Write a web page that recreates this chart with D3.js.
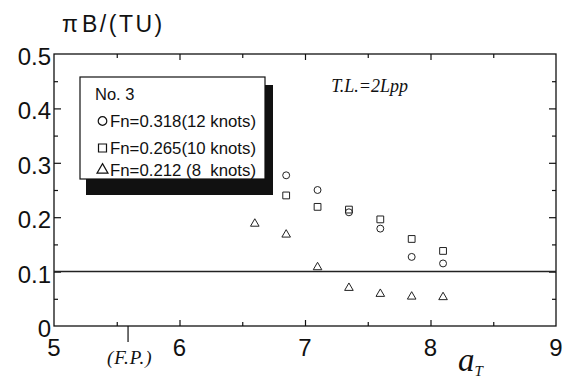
<!DOCTYPE html>
<html>
<head>
<meta charset="utf-8">
<script src="https://cdn.jsdelivr.net/npm/d3@7"></script>
<style>
  body { margin: 0; background: #fff; }
  svg { display: block; }
  text { font-family: "Liberation Sans", Arial, sans-serif; fill: #111; }
  .serif { font-family: "Liberation Serif", "Times New Roman", serif; font-style: italic; }
</style>
</head>
<body>
<svg id="chart"></svg>
<script>
// values
const xMajor = [5, 6, 7, 8, 9];
const xMinor = [5.5, 6.5, 7.5, 8.5];
const yMajor = [0, 0.1, 0.2, 0.3, 0.4, 0.5];
const yMinor = [0.05, 0.15, 0.25, 0.35, 0.45];

const circleX = [6.85, 7.1, 7.35, 7.6, 7.85, 8.1];
const circleY = [0.277, 0.250, 0.209, 0.179, 0.127, 0.115];   // Fn=0.318
const squareX = [6.85, 7.1, 7.35, 7.6, 7.85, 8.1];
const squareY = [0.240, 0.219, 0.214, 0.196, 0.160, 0.138];   // Fn=0.265
const triX = [6.6, 6.85, 7.1, 7.35, 7.6, 7.85, 8.1];
const triY = [0.188, 0.168, 0.108, 0.070, 0.059, 0.054, 0.053]; // Fn=0.212

const legendLabels = ["Fn=0.318(12 knots)", "Fn=0.265(10 knots)", "Fn=0.212 (8  knots)"];
const refLine = 0.1;
const fpMark = 5.59;

const width = 569, height = 378;
const plotL = 54, plotR = 556, plotT = 54, plotB = 326;

const svg = d3.select("#chart")
    .attr("width", width)
    .attr("height", height);

const x = d3.scaleLinear().domain([5, 9]).range([plotL, plotR]);
const y = d3.scaleLinear().domain([0, 0.5]).range([plotB, plotT]);

// frame
svg.append("rect")
    .attr("x", plotL)
    .attr("y", plotT)
    .attr("width", plotR - plotL)
    .attr("height", plotB - plotT)
    .attr("fill", "none")
    .attr("stroke", "#111")
    .attr("stroke-width", 1.3);

function tickAxis(axis, vals, size, transform) {
    svg.append("g")
        .attr("transform", transform)
        .call(axis.tickValues(vals).tickSize(size).tickFormat(""))
        .call(g => g.select(".domain").remove())
        .call(g => g.selectAll("line").attr("stroke", "#111").attr("stroke-width", 1.2));
}

tickAxis(d3.axisBottom(x), xMajor.slice(1, -1), -6, `translate(0,${plotB})`);
tickAxis(d3.axisBottom(x), xMinor, -4, `translate(0,${plotB})`);
tickAxis(d3.axisTop(x), xMajor.slice(1, -1), -6, `translate(0,${plotT})`);
tickAxis(d3.axisTop(x), xMinor, -4, `translate(0,${plotT})`);
tickAxis(d3.axisLeft(y), yMajor.slice(1, -1), -7, `translate(${plotL},0)`);
tickAxis(d3.axisLeft(y), yMinor, -4, `translate(${plotL},0)`);
tickAxis(d3.axisRight(y), yMajor.slice(1, -1), -7, `translate(${plotR},0)`);
tickAxis(d3.axisRight(y), yMinor, -4, `translate(${plotR},0)`);

// tick labels
svg.selectAll("text.xlab")
    .data(xMajor)
    .enter()
    .append("text")
    .attr("class", "xlab")
    .attr("x", d => x(d))
    .attr("y", 356)
    .attr("text-anchor", "middle")
    .style("font-size", "24px")
    .text(d => d);

svg.selectAll("text.ylab")
    .data(yMajor)
    .enter()
    .append("text")
    .attr("class", "ylab")
    .attr("x", 51)
    .attr("y", d => y(d) + 11)
    .attr("text-anchor", "end")
    .style("font-size", "24px")
    .text(d => d === 0 ? "0" : d3.format(".1f")(d));

// F.P. mark
svg.append("line")
    .attr("x1", x(fpMark)).attr("x2", x(fpMark))
    .attr("y1", plotB).attr("y2", plotB + 16)
    .attr("stroke", "#111")
    .attr("stroke-width", 1.2);

svg.append("text")
    .attr("class", "serif")
    .attr("x", 107)
    .attr("y", 364)
    .style("font-size", "19px")
    .style("letter-spacing", "0.8px")
    .text("(F.P.)");

// axis titles
svg.append("text")
    .attr("x", 62)
    .attr("y", 32)
    .style("font-size", "23px")
    .text("π");
svg.append("text")
    .attr("x", 82)
    .attr("y", 32)
    .style("font-size", "23px")
    .style("letter-spacing", "2.5px")
    .text("B/(TU)");

const aT = svg.append("text")
    .attr("class", "serif")
    .attr("x", 458)
    .attr("y", 371);
aT.append("tspan").style("font-size", "33px").text("a");
aT.append("tspan").attr("dy", 5).style("font-size", "15px").text("T");

svg.append("text")
    .attr("class", "serif")
    .attr("x", 408)
    .attr("y", 92)
    .attr("text-anchor", "end")
    .style("font-size", "18px")
    .text("T.L.=2Lpp");

// reference line
svg.append("line")
    .attr("x1", plotL).attr("x2", plotR)
    .attr("y1", y(refLine)).attr("y2", y(refLine))
    .attr("stroke", "#222")
    .attr("stroke-width", 1.5);

// markers
const circleSym = d3.symbol().type(d3.symbolCircle).size(38);
const squareSym = d3.symbol().type(d3.symbolSquare).size(46);
const triSym = d3.symbol().type(d3.symbolTriangle).size(32);

function drawSeries(xs, ys, sym) {
    svg.append("g")
        .selectAll("path")
        .data(xs.map((d, i) => [d, ys[i]]))
        .enter()
        .append("path")
        .attr("transform", d => `translate(${x(d[0])},${y(d[1])})`)
        .attr("d", sym)
        .attr("fill", "none")
        .attr("stroke", "#222")
        .attr("stroke-width", 1);
}
drawSeries(squareX, squareY, squareSym);
drawSeries(circleX, circleY, circleSym);
drawSeries(triX, triY, triSym);

// legend with drop shadow
svg.append("rect")
    .attr("x", 86).attr("y", 85)
    .attr("width", 187).attr("height", 110)
    .attr("fill", "#111");
svg.append("rect")
    .attr("x", 80).attr("y", 77)
    .attr("width", 185).attr("height", 102)
    .attr("fill", "#fff")
    .attr("stroke", "#111")
    .attr("stroke-width", 1.2);

svg.append("text")
    .attr("x", 95)
    .attr("y", 100)
    .style("font-size", "16.5px")
    .text("No. 3");

const legendY = [121, 148, 170];
const legendSyms = [
    d3.symbol().type(d3.symbolCircle).size(58),
    d3.symbol().type(d3.symbolSquare).size(64),
    d3.symbol().type(d3.symbolTriangle).size(52)
];
legendLabels.forEach((label, i) => {
    svg.append("path")
        .attr("transform", `translate(102.5,${legendY[i]})`)
        .attr("d", legendSyms[i])
        .attr("fill", "none")
        .attr("stroke", "#111")
        .attr("stroke-width", 1.2);
    svg.append("text")
        .attr("x", 110)
        .attr("y", legendY[i] + 6)
        .style("font-size", "16.8px")
        .style("white-space", "pre")
        .text(label);
});
</script>
</body>
</html>
